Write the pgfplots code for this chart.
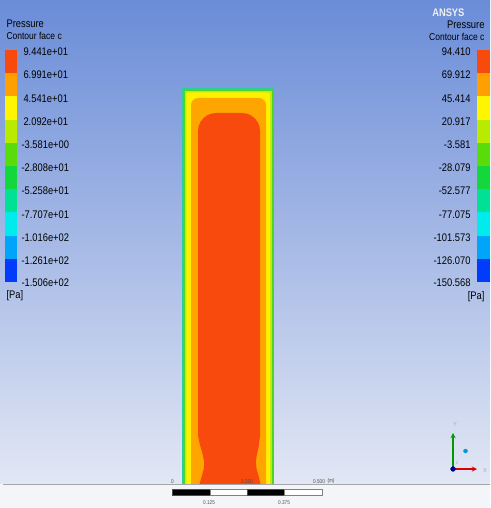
\documentclass[border=0pt]{standalone}
\usepackage{pgfplots}
\pgfplotsset{compat=1.18}
\usepackage{fontspec}
\setmainfont[FakeStretch=0.85]{Liberation Sans}
\definecolor{bgTop}{RGB}{106,140,216}
\definecolor{bgMid}{RGB}{160,182,230}
\definecolor{bgBot}{RGB}{226,231,244}
\definecolor{bgWhite}{RGB}{244,245,248}
\definecolor{cA}{RGB}{248,74,12}
\definecolor{cB}{RGB}{255,160,0}
\definecolor{cC}{RGB}{255,245,0}
\definecolor{cD}{RGB}{185,235,0}
\definecolor{cE}{RGB}{90,220,10}
\definecolor{cF}{RGB}{20,215,60}
\definecolor{cG}{RGB}{0,225,150}
\definecolor{cH}{RGB}{0,235,235}
\definecolor{cI}{RGB}{0,165,250}
\definecolor{cJ}{RGB}{0,60,250}
\definecolor{dTeal}{RGB}{40,205,160}
\definecolor{dGreen}{RGB}{80,212,40}
\definecolor{dYG}{RGB}{185,235,20}
\definecolor{dYel}{RGB}{255,240,0}
\definecolor{dOr}{RGB}{255,165,0}
\definecolor{txt}{RGB}{35,35,40}
\newcommand{\rect}[5]{\addplot[fill=#1,draw=none] coordinates {(#2,#4)(#3,#4)(#3,#5)(#2,#5)} -- cycle;}
\begin{document}
\begin{tikzpicture}
\begin{axis}[scale only axis, width=490pt, height=508pt,
  xmin=0, xmax=490, ymin=0, ymax=508, y dir=reverse,
  axis lines=none, clip=false,
  every node/.append style={text=txt, inner sep=0pt}]
% background
\addplot[draw=none, top color=bgTop, middle color=bgMid, bottom color=bgBot] coordinates {(0,0)(490,0)(490,484)(0,484)} -- cycle;
\addplot[fill=bgWhite, draw=none] coordinates {(0,484)(490,484)(490,508)(0,508)} -- cycle;
% left colour bar
\rect{cA}{5}{17}{50}{73.2}
\rect{cB}{5}{17}{73.2}{96.4}
\rect{cC}{5}{17}{96.4}{119.6}
\rect{cD}{5}{17}{119.6}{142.8}
\rect{cE}{5}{17}{142.8}{166}
\rect{cF}{5}{17}{166}{189.2}
\rect{cG}{5}{17}{189.2}{212.4}
\rect{cH}{5}{17}{212.4}{235.6}
\rect{cI}{5}{17}{235.6}{258.8}
\rect{cJ}{5}{17}{258.8}{282}
% right colour bar
\rect{cA}{477}{490}{50}{73.2}
\rect{cB}{477}{490}{73.2}{96.4}
\rect{cC}{477}{490}{96.4}{119.6}
\rect{cD}{477}{490}{119.6}{142.8}
\rect{cE}{477}{490}{142.8}{166}
\rect{cF}{477}{490}{166}{189.2}
\rect{cG}{477}{490}{189.2}{212.4}
\rect{cH}{477}{490}{212.4}{235.6}
\rect{cI}{477}{490}{235.6}{258.8}
\rect{cJ}{477}{490}{258.8}{282}
% domain layers
\addplot[fill=dTeal, draw=none] coordinates {(182,88)(274,88)(274,484)(182,484)} -- cycle;
\addplot[fill=dGreen, draw=none] coordinates {(183.2,89.2)(272.8,89.2)(272.8,484)(183.2,484)} -- cycle;
\addplot[fill=dYG, draw=none] coordinates {(184.6,90.6)(271.5,90.6)(271.5,484)(184.6,484)} -- cycle;
\addplot[fill=dYel, draw=none] coordinates {(186.3,94.5)(186.8,93)(188,92.5)(268.5,92.5)(269.7,93)(270.2,94.5)(270.2,484)(186.3,484)} -- cycle;
\addplot[fill=dOr, draw=none] coordinates {(191,484)(191,105)(191.5,102.5)(193,100.1)(195.5,98.5)(198,98)(259,98)(261.5,98.5)(264,100.1)(265.5,102.5)(266,105)(266,484)} -- cycle;
\addplot[fill=cA, draw=none] coordinates {(198,131)(198.6,126.3)(200.4,122)(203.3,118.3)(207,115.4)(211.3,113.6)(216,113)(242,113)(246.7,113.6)(251,115.4)(254.7,118.3)(257.6,122)(259.4,126.3)(260,131)(260,436)(258.8,446)(256.8,455)(255.8,462)(256.6,469)(258.6,476)(260.5,484)(199.5,484)(201.8,476)(203.8,469)(204.2,462)(202.6,454)(200,445)(198,436)} -- cycle;
% bottom line
\addplot[gray!70, line width=0.6pt] coordinates {(3,484.3)(490,484.3)};
% scale bar
\addplot[fill=black, draw=black!70, line width=0.3pt] coordinates {(172,489.5)(210,489.5)(210,495.5)(172,495.5)} -- cycle;
\addplot[fill=white, draw=black!50, line width=0.3pt] coordinates {(210,489.5)(247,489.5)(247,495.5)(210,495.5)} -- cycle;
\addplot[fill=black, draw=black!70, line width=0.3pt] coordinates {(247,489.5)(284,489.5)(284,495.5)(247,495.5)} -- cycle;
\addplot[fill=white, draw=black!50, line width=0.3pt] coordinates {(284,489.5)(322,489.5)(322,495.5)(284,495.5)} -- cycle;
\node[font=\fontsize{5.5}{6}\selectfont, text=black!70] at (172.5,481.5) {0};
\node[font=\fontsize{5.5}{6}\selectfont, text=black!70] at (247,481.5) {0.250};
\node[font=\fontsize{5.5}{6}\selectfont, text=black!70] at (319,481.5) {0.500};
\node[font=\fontsize{5.5}{6}\selectfont, text=black!70] at (331,481.5) {(m)};
\node[font=\fontsize{5.5}{6}\selectfont, text=black!70] at (209,502.5) {0.125};
\node[font=\fontsize{5.5}{6}\selectfont, text=black!70] at (284,502.5) {0.375};
% triad
\addplot[green!60!black, line width=1.3pt, -stealth] coordinates {(453,469)(453,433)};
\addplot[red!85!black, line width=1.3pt, -stealth] coordinates {(453,469)(477,469)};
\addplot[only marks, mark=*, mark size=2.4pt, mark options={fill=blue!60!black, draw=blue!60!black}] coordinates {(453,469)};
\addplot[only marks, mark=*, mark size=2pt, mark options={fill=cyan!80!blue, draw=cyan!80!blue}] coordinates {(465.5,451)};
\node[font=\fontsize{6}{7}\selectfont, text=gray!70] at (455,424) {Y};
\node[font=\fontsize{6}{7}\selectfont, text=gray!70] at (485,470) {X};
\node[font=\fontsize{4}{5}\selectfont, text=gray!70] at (457,463) {Z};
% left titles
\node[anchor=west, font=\fontsize{11}{12}\selectfont] at (3,24) {Pressure};
\node[anchor=west, font=\fontsize{10}{11}\selectfont] at (3,36) {Contour face c};
\node[anchor=west, font=\fontsize{11}{12}\selectfont] at (3,296) {[Pa]};
% left labels
\node[anchor=west, font=\fontsize{11}{12}\selectfont] at (20,52) {9.441e+01};
\node[anchor=west, font=\fontsize{11}{12}\selectfont] at (20,75.2) {6.991e+01};
\node[anchor=west, font=\fontsize{11}{12}\selectfont] at (20,98.4) {4.541e+01};
\node[anchor=west, font=\fontsize{11}{12}\selectfont] at (20,121.6) {2.092e+01};
\node[anchor=west, font=\fontsize{11}{12}\selectfont] at (18,144.8) {-3.581e+00};
\node[anchor=west, font=\fontsize{11}{12}\selectfont] at (18,168) {-2.808e+01};
\node[anchor=west, font=\fontsize{11}{12}\selectfont] at (18,191.2) {-5.258e+01};
\node[anchor=west, font=\fontsize{11}{12}\selectfont] at (18,214.4) {-7.707e+01};
\node[anchor=west, font=\fontsize{11}{12}\selectfont] at (18,237.6) {-1.016e+02};
\node[anchor=west, font=\fontsize{11}{12}\selectfont] at (18,260.8) {-1.261e+02};
\node[anchor=west, font=\fontsize{11}{12}\selectfont] at (18,283) {-1.506e+02};
% right titles
\node[anchor=east, font=\fontsize{11}{12}\selectfont\bfseries, text=white!88!gray] at (468,13) {ANSYS};
\node[anchor=east, font=\fontsize{11}{12}\selectfont] at (488,25) {Pressure};
\node[anchor=east, font=\fontsize{10}{11}\selectfont] at (488,37) {Contour face c};
\node[anchor=east, font=\fontsize{11}{12}\selectfont] at (488,297) {[Pa]};
% right labels
\node[anchor=east, font=\fontsize{11}{12}\selectfont] at (474,52) {94.410};
\node[anchor=east, font=\fontsize{11}{12}\selectfont] at (474,75.2) {69.912};
\node[anchor=east, font=\fontsize{11}{12}\selectfont] at (474,98.4) {45.414};
\node[anchor=east, font=\fontsize{11}{12}\selectfont] at (474,121.6) {20.917};
\node[anchor=east, font=\fontsize{11}{12}\selectfont] at (474,144.8) {-3.581};
\node[anchor=east, font=\fontsize{11}{12}\selectfont] at (474,168) {-28.079};
\node[anchor=east, font=\fontsize{11}{12}\selectfont] at (474,191.2) {-52.577};
\node[anchor=east, font=\fontsize{11}{12}\selectfont] at (474,214.4) {-77.075};
\node[anchor=east, font=\fontsize{11}{12}\selectfont] at (474,237.6) {-101.573};
\node[anchor=east, font=\fontsize{11}{12}\selectfont] at (474,260.8) {-126.070};
\node[anchor=east, font=\fontsize{11}{12}\selectfont] at (474,283) {-150.568};
\end{axis}
\end{tikzpicture}
\end{document}
